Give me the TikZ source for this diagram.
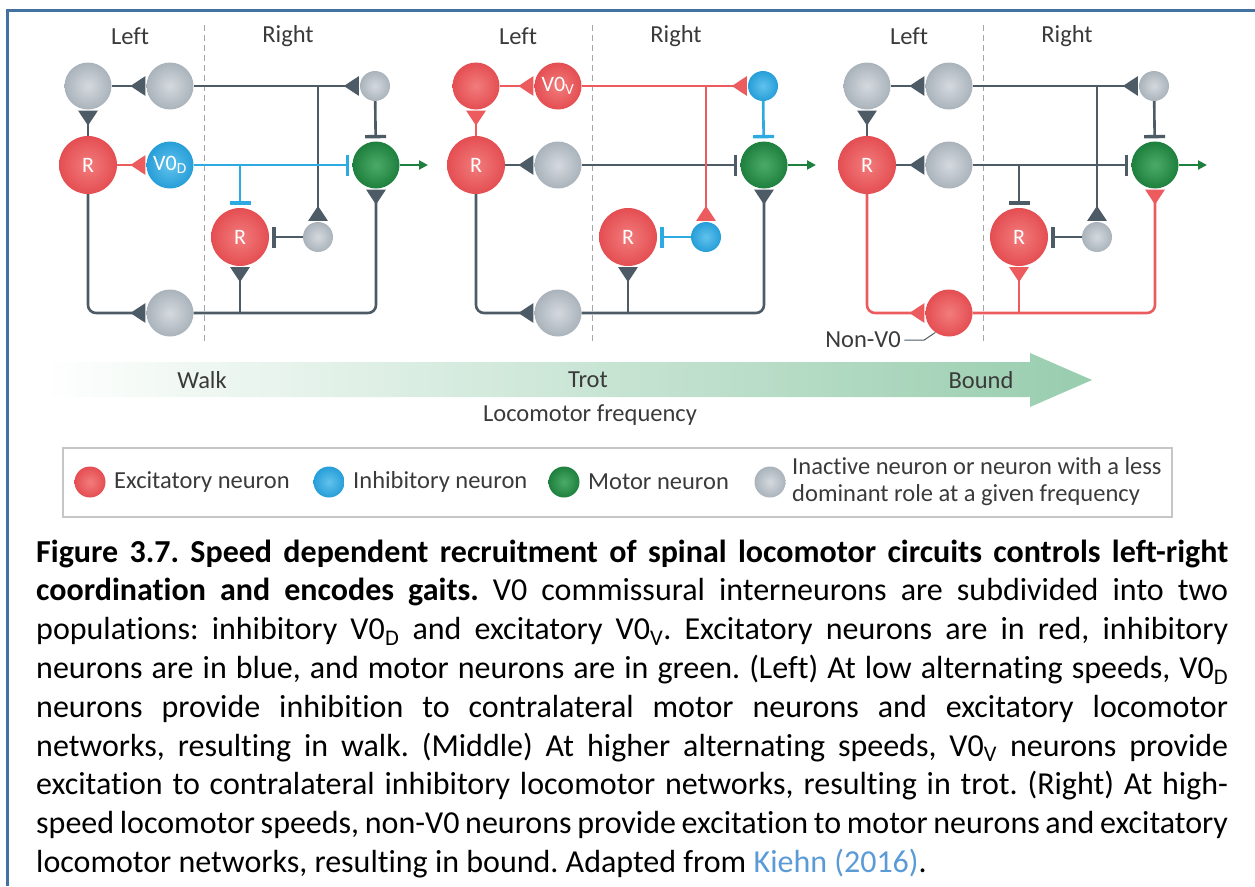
\documentclass[tikz,border=0pt]{standalone}
\usepackage{fontspec}
\setmainfont{Carlito}[Ligatures=NoCommon]
\usetikzlibrary{arrows.meta,positioning}

\definecolor{lnGray}{RGB}{77,91,102}
\definecolor{lnRed}{RGB}{236,92,94}
\definecolor{lnBlue}{RGB}{44,170,225}
\definecolor{nRed}{RGB}{228,78,82}
\definecolor{nRedIn}{RGB}{242,124,124}
\definecolor{nBlue}{RGB}{38,158,216}
\definecolor{nBlueIn}{RGB}{98,194,237}
\definecolor{nGreen}{RGB}{30,128,62}
\definecolor{nGreenIn}{RGB}{76,170,104}
\definecolor{nGray}{RGB}{170,179,187}
\definecolor{nGrayIn}{RGB}{212,217,222}
\definecolor{txtGray}{RGB}{58,58,58}
\definecolor{arrGreen}{RGB}{152,205,174}
\definecolor{frameBlue}{RGB}{68,114,160}
\definecolor{linkBlue}{RGB}{91,155,213}
\newcommand{\figfont}{\fontsize{24.5}{27}\selectfont}
\frenchspacing

\begin{document}
\begin{tikzpicture}[x=1pt, y=-1pt,
    neuron/.style={circle, inner sep=0pt, text=white, font=\fontsize{22}{23}\selectfont},
    bigN/.style={neuron, minimum size=58pt},
    midN/.style={neuron, minimum size=47pt},
    smallN/.style={neuron, minimum size=30pt},
    exc/.style={inner color=nRedIn, outer color=nRed},
    inh/.style={inner color=nBlueIn, outer color=nBlue},
    mot/.style={inner color=nGreenIn, outer color=nGreen},
    ina/.style={inner color=nGrayIn, outer color=nGray},
    syn/.style={line width=2.6pt, -{Triangle[reversed, length=15pt, width=19pt]}, shorten >=1pt},
    blk/.style={line width=2.6pt, -{Bar[width=21pt, line width=3.4pt]}, shorten >=3pt},
    outarr/.style={nGreen, line width=2pt, -{Triangle[length=9pt, width=9pt]}},
    leader/.style={lnGray, line width=1pt},
    midline/.style={gray!70, line width=1pt, dash pattern=on 6pt off 4pt},
    txt/.style={text=txtGray, font=\figfont},
    caption/.style={anchor=base west, inner sep=0pt, text width=1192pt, align=justify,
        font={\fontsize{32}{38.8}\selectfont\hyphenpenalty=10000\exhyphenpenalty=10000\tolerance=9999}}]
    \useasboundingbox (0,0) rectangle (1255,886);
    \draw[frameBlue, line width=3pt] (7,886) -- (7,10) -- (1255,10);

    % walk
    \begin{scope}[name prefix=a-]
    \node[txt] (left) at (130,36) {Left};
    \node[txt] (right) at (288,36) {Right};
    \draw[midline] (204,25) -- (204,343);
    \node[midN, ina] (tl) at (88,86) {};
    \node[midN, ina] (t2) at (170,86) {};
    \node[smallN, ina] (ts) at (375,86) {};
    \node[bigN, exc] (r) at (88,165) {R};
    \node[midN, inh] (m) at (170,165) {V0\textsubscript{D}};
    \node[midN, mot] (g) at (376,165) {};
    \node[bigN, exc] (lr) at (240,237) {R};
    \node[smallN, ina] (ls) at (318,237) {};
    \node[midN, ina] (b) at (170,313) {};
    \coordinate (j1) at (ls |- t2);
    \coordinate (j2) at (lr |- m);
    \coordinate (j3) at (lr |- b);
    \coordinate (mo) at (428,165);

    \draw[syn, lnGray] (r) -- (tl);
    \draw[syn, lnGray] (tl) -- (t2);
    \draw[syn, lnGray] (t2) -- (ts);
    \draw[blk, lnGray] (ts) -- (g);
    \draw[syn, lnRed] (r) -- (m);
    \draw[syn, lnGray] (j1) -- (ls);
    \draw[blk, lnBlue] (m) -- (g);
    \draw[blk, lnBlue] (j2) -- (lr);
    \draw[blk, lnGray] (ls) -- (lr);
    \draw[syn, lnGray, rounded corners=8pt] (r) |- (b);
    \draw[syn, lnGray, rounded corners=8pt] (b) -| (g);
    \draw[syn, lnGray] (j3) -- (lr);
    \draw[outarr] (g) -- (mo);
    \end{scope}

    % trot
    \begin{scope}[shift={(388,0)}, name prefix=b-]
    \node[txt] (left) at (130,36) {Left};
    \node[txt] (right) at (288,36) {Right};
    \draw[midline] (204,25) -- (204,343);
    \node[midN, exc] (tl) at (88,86) {};
    \node[midN, exc] (t2) at (170,86) {V0\textsubscript{V}};
    \node[smallN, inh] (ts) at (375,86) {};
    \node[bigN, exc] (r) at (88,165) {R};
    \node[midN, ina] (m) at (170,165) {};
    \node[midN, mot] (g) at (376,165) {};
    \node[bigN, exc] (lr) at (240,237) {R};
    \node[smallN, inh] (ls) at (318,237) {};
    \node[midN, ina] (b) at (170,313) {};
    \coordinate (j1) at (ls |- t2);
    \coordinate (j3) at (lr |- b);
    \coordinate (mo) at (428,165);

    \draw[syn, lnRed] (r) -- (tl);
    \draw[syn, lnRed] (tl) -- (t2);
    \draw[syn, lnRed] (t2) -- (ts);
    \draw[blk, lnBlue] (ts) -- (g);
    \draw[syn, lnGray] (r) -- (m);
    \draw[blk, lnGray] (m) -- (g);
    \draw[syn, lnRed] (j1) -- (ls);
    \draw[blk, lnBlue] (ls) -- (lr);
    \draw[syn, lnGray, rounded corners=8pt] (r) |- (b);
    \draw[syn, lnGray, rounded corners=8pt] (b) -| (g);
    \draw[syn, lnGray] (j3) -- (lr);
    \draw[outarr] (g) -- (mo);
    \end{scope}

    % bound
    \begin{scope}[shift={(779,0)}, name prefix=c-]
    \node[txt] (left) at (130,36) {Left};
    \node[txt] (right) at (288,36) {Right};
    \draw[midline] (204,25) -- (204,343);
    \node[midN, ina] (tl) at (88,86) {};
    \node[midN, ina] (t2) at (170,86) {};
    \node[smallN, ina] (ts) at (375,86) {};
    \node[bigN, exc] (r) at (88,165) {R};
    \node[midN, ina] (m) at (170,165) {};
    \node[midN, mot] (g) at (376,165) {};
    \node[bigN, exc] (lr) at (240,237) {R};
    \node[smallN, ina] (ls) at (318,237) {};
    \node[midN, exc] (b) at (170,313) {};
    \node[txt] (nv) at (84,340) {Non-V0};
    \coordinate (j1) at (ls |- t2);
    \coordinate (j2) at (lr |- m);
    \coordinate (j3) at (lr |- b);
    \coordinate (mo) at (428,165);

    \draw[syn, lnGray] (r) -- (tl);
    \draw[syn, lnGray] (tl) -- (t2);
    \draw[syn, lnGray] (t2) -- (ts);
    \draw[blk, lnGray] (ts) -- (g);
    \draw[syn, lnGray] (r) -- (m);
    \draw[syn, lnGray] (j1) -- (ls);
    \draw[blk, lnGray] (m) -- (g);
    \draw[blk, lnGray] (j2) -- (lr);
    \draw[blk, lnGray] (ls) -- (lr);
    \draw[syn, lnRed, rounded corners=8pt] (r) |- (b);
    \draw[syn, lnRed, rounded corners=8pt] (b) -| (g);
    \draw[syn, lnRed] (j3) -- (lr);
    \draw[outarr] (g) -- (mo);
    \draw[leader] (nv.east) -- ++(20,0) -- (b.235);
    \end{scope}

    % frequency arrow
    \shade[left color=white, right color=arrGreen] (40,362) -- (1030,362) -- (1030,353)
        -- (1092,380) -- (1030,407) -- (1030,397) -- (40,397) -- cycle;
    \node[txt] (walk) at (202,380) {Walk};
    \node[txt] (trot) at (588,380) {Trot};
    \node[txt] (bound) at (981,380) {Bound};
    \node[txt] (freq) at (590,415) {Locomotor frequency};

    % legend
    \draw[gray!45, line width=1.2pt] (63,448) rectangle (1172,517);
    \node[smallN, exc, minimum size=31pt] (k1) at (90,482) {};
    \node[txt, right=5pt of k1] (k1t) {Excitatory neuron};
    \node[smallN, inh, minimum size=31pt] (k2) at (329,482) {};
    \node[txt, right=5pt of k2] (k2t) {Inhibitory neuron};
    \node[smallN, mot, minimum size=31pt] (k3) at (564,482) {};
    \node[txt, right=5pt of k3] (k3t) {Motor neuron};
    \node[smallN, ina, minimum size=31pt] (k4) at (770,482) {};
    \node[txt, right=3pt of k4, align=left] (k4t) {Inactive neuron or neuron with a less\\dominant role at a given frequency};

    \node[caption] (cap) at (36,562) {\textbf{Figure 3.7. Speed dependent recruitment of spinal locomotor circuits controls left-right\linebreak coordination and encodes gaits.} V0 commissural interneurons are subdivided into two\linebreak populations: inhibitory V0\textsubscript{D} and excitatory V0\textsubscript{V}. Excitatory neurons are in red, inhibitory\linebreak neurons are in blue, and motor neurons are in green. (Left) At low alternating speeds, V0\textsubscript{D}\linebreak neurons provide inhibition to contralateral motor neurons and excitatory locomotor\linebreak networks, resulting in walk. (Middle) At higher alternating speeds, V0\textsubscript{V} neurons provide\linebreak excitation to contralateral inhibitory locomotor networks, resulting in trot. (Right) At high-\linebreak speed locomotor speeds, non-V0 neurons provide excitation to motor neurons and excitatory\linebreak locomotor networks, resulting in bound. Adapted from \textcolor{linkBlue}{Kiehn (2016)}.};
\end{tikzpicture}
\end{document}
